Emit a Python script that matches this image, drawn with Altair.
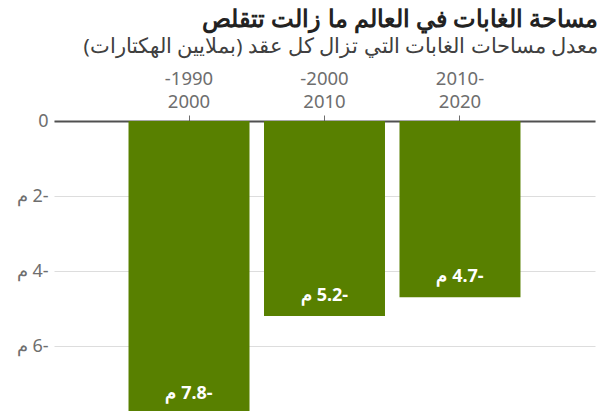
import altair as alt
import pandas as pd

RLE = "\u202b"
PDF = "\u202c"

title_text = "مساحة الغابات في العالم ما زالت تتقلص"
subtitle_text = "معدل مساحات الغابات التي تزال كل عقد (بملايين الهكتارات)"

period_top = ["-1990", "-2000", "2010-"]
period_bottom = ["2000", "2010", "2020"]
loss = [-7.8, -5.2, -4.7]
y_ticks = [0, -2, -4, -6]

df = pd.DataFrame({
    "period": [t + "|" + b for t, b in zip(period_top, period_bottom)],
    "loss": loss,
})

FONT = "Noto Sans"
GREEN = "#588000"

x_enc = alt.X(
    "period:N",
    sort=None,
    title=None,
    scale=alt.Scale(paddingInner=0.107, paddingOuter=0.55),
    axis=alt.Axis(
        orient="top",
        labelExpr="split(datum.label, '|')",
        labelAngle=0,
        labelFontSize=18.5,
        labelLineHeight=23,
        labelColor="#6e6e6e",
        labelFont=FONT,
        labelPadding=27,
        tickColor="#6e6e6e",
        tickSize=6,
        domainColor="#505050",
        domainWidth=2,
        labelBaseline="bottom",
    ),
)

y_scale = alt.Scale(domain=[-7.7333, 0], nice=False, zero=False)

bars = alt.Chart(df).mark_bar(color=GREEN).encode(
    x=x_enc,
    y=alt.Y(
        "loss:Q",
        scale=y_scale,
        title=None,
        axis=alt.Axis(
            values=y_ticks,
            labelExpr="datum.value == 0 ? '0' : '" + RLE + "-' + abs(datum.value) + ' م" + PDF + "'",
            domain=False,
            ticks=False,
            labelPadding=6,
            labelFontSize=18,
            labelColor="#6e6e6e",
            labelFont=FONT,
            gridColor="#dddddd",
            gridWidth=1,
        ),
    ),
    y2=alt.datum(0),
)

labels = alt.Chart(df).transform_calculate(
    lab="'" + RLE + "-' + format(abs(datum.loss), '.1f') + ' م" + PDF + "'"
).mark_text(
    color="white", fontWeight="bold", fontSize=18, font=FONT, baseline="middle", dy=-20
).encode(
    x=alt.X("period:N", sort=None),
    y=alt.Y("loss:Q", scale=y_scale),
    text="lab:N",
)

chart = alt.layer(bars, labels).properties(
    width=541,
    height=290,
    autosize=alt.AutoSizeParams(type="none"),
    padding={"left": 54, "top": 121, "right": 13, "bottom": 0},
    title=alt.TitleParams(
        text=RLE + title_text + PDF,
        subtitle=RLE + subtitle_text + PDF,
        anchor="end",
        frame="group",
        dx=3,
        offset=12,
        font=FONT,
        fontSize=23.5,
        fontWeight="bold",
        color="#222222",
        subtitleFont=FONT,
        subtitleFontSize=20.7,
        subtitleColor="#404040",
        subtitlePadding=6,
    ),
).configure_view(stroke=None)

chart.save("out.html", embed_options={"renderer": "svg", "actions": False})
